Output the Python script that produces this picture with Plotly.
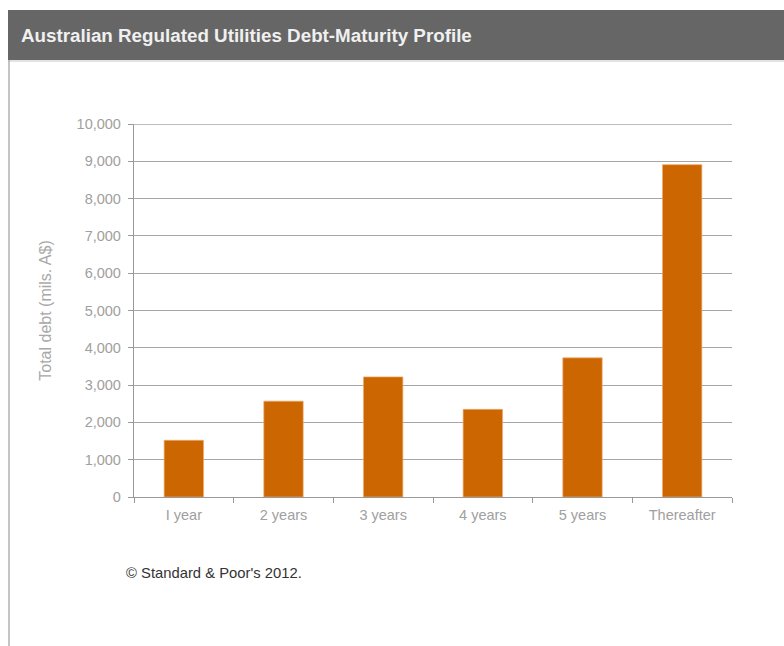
import plotly.graph_objects as go

# Debt maturity profile, millions of A$
maturity = ["I year", "2 years", "3 years", "4 years", "5 years", "Thereafter"]
total_debt = [1520, 2570, 3220, 2350, 3730, 8910]
y_ticks = [0, 1000, 2000, 3000, 4000, 5000, 6000, 7000, 8000, 9000, 10000]

W, H = 784, 646
L, R, T, B = 134, 732, 124, 497  # plot area in pixels


def px_x(x):
    return (x - L) / (R - L)


def px_y(y):
    return (B - y) / (B - T)


fig = go.Figure(
    go.Bar(
        x=maturity,
        y=total_debt,
        marker=dict(color="#CC6600", line=dict(color="rgba(240,170,110,0.7)", width=1)),
        hoverinfo="x+y",
    )
)

fig.update_layout(
    width=W,
    height=H,
    margin=dict(l=L, r=W - R, t=T, b=H - B),
    paper_bgcolor="white",
    plot_bgcolor="white",
    bargap=0.605,
    showlegend=False,
    font=dict(family="Liberation Sans, Arial, sans-serif"),
    shapes=[
        # header bar
        dict(type="rect", xref="paper", yref="paper",
             x0=px_x(8), x1=px_x(784), y0=px_y(60), y1=px_y(10),
             fillcolor="#666666", line=dict(width=0), layer="below"),
        # thin line under header
        dict(type="line", xref="paper", yref="paper",
             x0=px_x(8), x1=px_x(784), y0=px_y(61), y1=px_y(61),
             line=dict(color="#D8D8D8", width=1.5)),
        # left frame border
        dict(type="line", xref="paper", yref="paper",
             x0=px_x(9), x1=px_x(9), y0=px_y(60), y1=px_y(646),
             line=dict(color="#B0B0B0", width=1.5)),
        # top gridline at 10,000
        dict(type="line", xref="paper", yref="y",
             x0=0, x1=1, y0=10000, y1=10000,
             line=dict(color="#A6A6A6", width=1.3)),
    ],
    annotations=[
        dict(text="<b>Australian Regulated Utilities Debt-Maturity Profile</b>",
             xref="paper", yref="paper", x=px_x(19), y=px_y(35),
             xanchor="left", yanchor="middle", showarrow=False,
             font=dict(size=18.8, color="#F0F0F0", family="Liberation Sans, Arial, sans-serif")),
        dict(text="© Standard & Poor's 2012.",
             xref="paper", yref="paper", x=px_x(124), y=px_y(573),
             xanchor="left", yanchor="middle", showarrow=False,
             font=dict(size=14.8, color="#333333")),
    ],
)

fig.update_yaxes(
    range=[0, 10000],
    tickvals=y_ticks,
    tickformat=",d",
    showgrid=True,
    gridcolor="#A6A6A6",
    gridwidth=1.3,
    showline=True,
    linecolor="#999999",
    linewidth=1.3,
    ticks="outside",
    ticklen=5,
    tickcolor="#999999",
    ticklabelstandoff=4,
    tickfont=dict(size=14.5, color="#A0A0A0"),
    title=dict(text="Total debt (mils. A$)", font=dict(size=16, color="#A8A8A8"), standoff=20),
    zeroline=False,
    fixedrange=True,
)

fig.update_xaxes(
    showline=True,
    linecolor="#999999",
    linewidth=1.3,
    ticks="outside",
    tickson="boundaries",
    ticklen=5,
    tickcolor="#999999",
    ticklabelstandoff=4,
    tickfont=dict(size=14.5, color="#A0A0A0"),
    fixedrange=True,
)

fig.write_html("out.html")
